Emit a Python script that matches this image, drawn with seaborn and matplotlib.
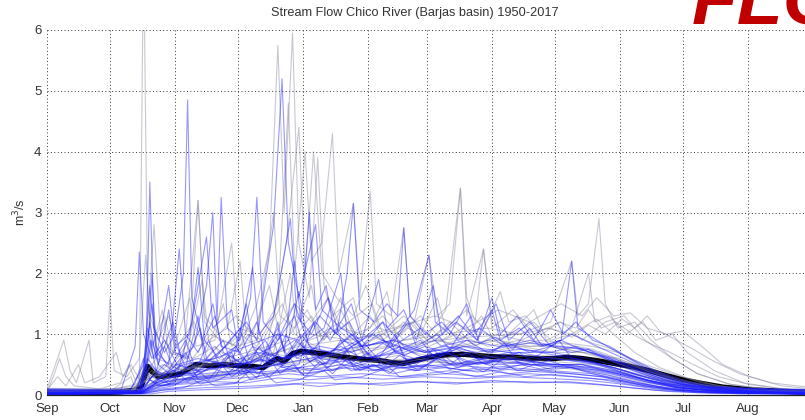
import matplotlib
matplotlib.use("Agg")
import matplotlib.pyplot as plt
import seaborn as sns
import pandas as pd

# Daily streamflow (m3/s) per hydrological year, as (day since 1 Sep, flow) vertices
yr01 = [(0,.05),(18,.07),(30,.1),(44,.15),(46,7.5),(48,1.4),(53,.9),(58,1.3),(62,.8),(70,1.2),(76,.7),(84,1.5),(88,.8),(96,1.1),(104,.7),(112,1.9),(116,1.0),(124,1.4),(131,.9),(140,1.6),(146,1.0),(154,1.3),(162,.8),(172,1.1),(182,.9),(192,1.2),(204,.8),(214,1.0),(226,.9),(238,1.1),(250,1.0),(262,1.25),(270,1.0),(280,.7),(292,.45),(305,.28),(320,.15),(340,.08),(365,.05)]
yr02 = [(0,.03),(44,.05),(47,.5),(49,3.5),(51,1.1),(56,.7),(61,1.0),(65,2.0),(67,4.85),(69,1.6),(74,.9),(79,1.5),(83,.8),(92,.7),(100,1.2),(104,.7),(113,.6),(121,1.0),(130,.6),(141,.7),(150,.9),(160,.5),(175,.6),(190,.7),(202,.5),(215,.6),(230,.5),(250,.45),(268,.35),(285,.22),(300,.12),(320,.07),(345,.04),(365,.03)]
yr03 = [(0,.04),(40,.05),(50,.4),(55,.3),(65,.6),(72,3.2),(75,1.2),(82,.9),(92,.8),(100,1.5),(106,2.4),(110,5.75),(113,3.0),(117,5.95),(120,2.5),(125,1.6),(129,3.9),(132,1.8),(136,1.3),(146,1.6),(150,1.0),(160,.9),(170,1.2),(182,.8),(195,1.0),(210,.8),(225,.9),(240,.8),(255,.7),(270,.6),(285,.4),(300,.25),(320,.12),(345,.06),(365,.04)]
yr04 = [(0,.06),(30,.08),(45,.2),(55,.5),(65,.4),(78,1.0),(90,.8),(100,.9),(110,1.5),(115,4.8),(118,2.0),(123,4.0),(126,2.2),(131,2.5),(136,4.3),(139,2.0),(146,3.15),(149,1.6),(154,3.35),(157,1.5),(164,1.3),(170,2.75),(173,1.3),(182,1.0),(190,1.4),(197,3.4),(200,1.3),(208,2.4),(212,1.1),(222,1.4),(232,1.0),(245,1.2),(255,.9),(266,1.2),(275,1.3),(285,.9),(298,.6),(310,.35),(325,.18),(345,.09),(365,.06)]
yr05 = [(0,.03),(42,.04),(48,.6),(52,.4),(60,1.2),(64,.6),(70,.8),(76,1.8),(79,3.0),(81,1.2),(83,3.25),(86,1.1),(92,.9),(97,1.6),(100,3.25),(103,1.2),(110,.9),(118,1.5),(125,.8),(135,.7),(145,1.0),(155,.6),(168,.8),(180,.6),(195,.7),(210,.55),(225,.6),(240,.5),(255,.5),(270,.4),(285,.25),(300,.15),(320,.08),(345,.04),(365,.03)]
yr06 = [(0,.1),(4,.5),(8,.9),(11,.4),(14,.2),(20,.9),(22,.2),(28,.3),(30,1.6),(32,.4),(38,.3),(44,.6),(47,2.3),(50,.8),(56,1.3),(60,.7),(70,.6),(80,.8),(90,.5),(105,.7),(120,.6),(135,.5),(150,.7),(165,.5),(180,.6),(195,.5),(210,.6),(225,.4),(245,.45),(265,.35),(285,.2),(305,.1),(330,.06),(365,.04)]
yr07 = [(0,.02),(45,.03),(52,.2),(60,.25),(75,.3),(90,.35),(105,.5),(118,.7),(128,1.2),(135,.9),(145,1.5),(150,.9),(158,1.9),(162,1.1),(170,1.4),(176,.9),(184,1.8),(188,1.0),(196,1.3),(205,.9),(214,1.5),(220,.9),(230,1.2),(240,.8),(250,1.0),(262,.8),(275,.6),(290,.35),(305,.18),(320,.1),(345,.05),(365,.03)]
yr08 = [(0,.08),(40,.07),(50,.3),(60,.4),(80,.5),(100,.6),(120,.8),(140,.9),(160,1.0),(175,1.2),(182,2.3),(186,1.3),(192,1.5),(197,3.4),(200,1.6),(204,1.2),(208,2.4),(212,1.2),(220,1.0),(232,1.4),(238,.9),(250,1.1),(258,2.0),(261,1.2),(268,1.3),(276,1.0),(284,1.2),(290,.9),(298,1.0),(305,.7),(318,.4),(332,.2),(350,.1),(365,.07)]
yr09 = [(0,.03),(44,.04),(49,.5),(55,.3),(62,.5),(72,.4),(85,.8),(95,1.2),(100,.9),(108,2.8),(112,5.2),(115,2.5),(120,1.6),(128,2.8),(131,1.4),(140,1.1),(150,.9),(160,1.2),(170,.8),(180,.7),(195,.8),(210,.6),(225,.7),(240,.6),(255,.55),(270,.45),(285,.3),(300,.18),(318,.1),(340,.05),(365,.03)]
yr10 = [(0,.05),(44,.06),(50,.2),(60,.5),(70,.4),(82,.7),(92,1.0),(100,.8),(108,1.3),(114,2.5),(120,4.4),(123,2.0),(127,4.0),(131,2.0),(138,1.6),(146,1.3),(152,1.8),(158,1.1),(168,1.0),(178,1.3),(188,.9),(198,1.1),(210,1.0),(222,.8),(235,.9),(248,.85),(260,.8),(272,.7),(285,.5),(298,.35),(312,.2),(330,.1),(350,.06),(365,.05)]
yr11 = [(0,.02),(42,.03),(46,.4),(49,1.8),(52,.7),(58,.5),(63,2.4),(66,1.0),(72,.7),(80,1.3),(84,.7),(94,.5),(104,.9),(110,.5),(125,.4),(140,.5),(160,.4),(180,.5),(200,.4),(220,.45),(240,.4),(260,.35),(275,.25),(290,.15),(305,.08),(330,.04),(365,.02)]
yr12 = [(0,.02),(45,.03),(52,.15),(65,.2),(80,.25),(100,.3),(115,.4),(125,.35),(140,.45),(155,.4),(170,.5),(185,.45),(200,.55),(215,.5),(230,.55),(245,.5),(260,.45),(275,.35),(290,.2),(305,.1),(325,.05),(365,.02)]
yr13 = [(0,.07),(44,.06),(50,.3),(58,.4),(66,.9),(70,.5),(80,.6),(92,1.1),(96,.6),(108,.8),(118,1.3),(122,.8),(135,.7),(146,1.0),(152,.6),(165,.7),(178,.9),(185,.6),(198,.8),(212,.7),(225,.75),(240,.7),(252,.8),(262,.65),(275,.5),(290,.3),(305,.16),(322,.08),(345,.06),(365,.05)]
yr14 = [(0,.1),(40,.09),(50,.3),(65,.4),(85,.6),(105,.8),(125,1.0),(145,.9),(165,1.1),(185,1.3),(200,1.1),(215,1.4),(230,1.2),(245,1.5),(255,1.3),(262,1.6),(270,1.3),(278,1.35),(286,1.1),(295,1.0),(303,1.05),(312,.8),(322,.5),(335,.3),(350,.15),(365,.1)]
yr15 = [(0,.04),(45,.05),(55,.2),(70,.3),(90,.4),(110,.5),(130,.6),(150,.8),(170,.9),(190,1.0),(210,1.1),(225,1.0),(240,1.2),(250,2.2),(253,1.3),(258,1.5),(263,2.9),(266,1.5),(272,1.1),(280,1.2),(288,.9),(298,.6),(310,.35),(325,.18),(345,.08),(365,.05)]
yr16 = [(0,.03),(35,.05),(42,.8),(44,2.35),(46,1.0),(50,.6),(56,.9),(62,.5),(72,.6),(85,.5),(100,.7),(115,.6),(130,.8),(145,.7),(160,.9),(175,.7),(190,.8),(205,.7),(220,.8),(235,.7),(250,.6),(265,.5),(280,.35),(295,.2),(310,.1),(330,.05),(365,.03)]
yr17 = [(0,.02),(45,.03),(55,.15),(70,.25),(90,.3),(105,.5),(115,.9),(120,1.7),(124,.9),(132,1.1),(140,2.0),(143,1.0),(150,.8),(160,1.2),(166,.7),(175,.6),(190,.7),(205,.5),(220,.6),(240,.5),(255,.45),(270,.35),(285,.22),(300,.12),(320,.06),(365,.02)]
yr18 = [(0,.05),(30,.06),(40,.3),(42,.1),(48,.5),(55,1.4),(58,.7),(66,.6),(74,1.9),(77,.9),(86,1.1),(92,2.2),(95,1.0),(103,.9),(112,1.5),(118,1.0),(128,.8),(138,1.1),(150,.7),(165,.8),(180,.7),(195,.9),(210,.7),(225,.8),(242,.7),(258,.7),(272,.6),(288,.4),(302,.22),(318,.12),(340,.06),(365,.04)]
yr19 = [(0,.09),(45,.07),(55,.2),(70,.3),(90,.35),(110,.4),(130,.5),(150,.6),(170,.7),(185,.9),(195,1.2),(205,.9),(212,1.6),(216,1.0),(224,1.3),(232,.9),(240,1.4),(246,1.0),(252,1.2),(260,.9),(268,.8),(278,.6),(290,.4),(305,.22),(320,.14),(340,.1),(365,.08)]
yr20 = [(0,.02),(46,.03),(55,.08),(75,.12),(100,.15),(125,.2),(150,.18),(175,.22),(200,.2),(225,.22),(250,.2),(270,.15),(290,.08),(310,.04),(365,.02)]
yr21 = [(0,.03),(44,.04),(48,.9),(50,1.5),(53,.5),(60,.3),(75,.35),(90,.4),(105,.35),(120,.45),(135,.4),(150,.5),(170,.45),(190,.5),(210,.45),(230,.5),(250,.45),(265,.4),(280,.3),(295,.18),(310,.09),(330,.04),(365,.03)]
yr22 = [(0,.08),(5,.3),(9,.15),(15,.5),(18,.2),(25,.3),(33,.7),(36,.3),(40,.5),(45,.2),(50,.3),(60,.4),(75,.5),(95,.6),(115,.5),(135,.6),(155,.55),(175,.6),(195,.5),(215,.55),(235,.5),(255,.5),(270,.4),(285,.3),(300,.18),(320,.09),(345,.05),(365,.04)]
yr23 = [(0,.03),(45,.04),(55,.3),(65,.5),(80,.6),(95,.8),(110,1.0),(120,.9),(130,1.3),(138,1.0),(143,2.0),(146,3.15),(149,1.4),(156,1.2),(162,1.5),(167,1.3),(170,2.75),(173,1.3),(180,1.0),(188,1.2),(196,.9),(206,1.1),(218,.8),(230,.9),(242,.8),(255,.75),(268,.6),(282,.4),(297,.22),(312,.12),(335,.06),(365,.03)]
yr24 = [(0,.06),(45,.05),(55,.25),(70,.4),(90,.5),(110,.6),(130,.7),(150,.8),(165,.9),(175,1.4),(182,2.3),(185,1.2),(192,1.0),(200,1.5),(204,1.0),(212,1.4),(216,.9),(225,1.1),(235,.8),(245,.9),(250,2.2),(253,1.1),(262,.9),(272,.7),(285,.45),(300,.25),(315,.13),(335,.08),(365,.06)]
yr25 = [(0,.05),(40,.06),(46,.3),(52,.6),(60,.5),(68,.9),(72,3.2),(75,1.3),(82,1.0),(90,1.3),(98,1.0),(106,1.8),(110,1.1),(118,1.5),(126,1.2),(134,1.6),(140,1.1),(150,1.0),(160,1.3),(170,.9),(180,1.0),(195,.8),(210,.9),(225,.8),(240,.8),(255,.7),(270,.55),(285,.35),(300,.2),(318,.1),(340,.06),(365,.05)]
yr26 = [(0,.02),(45,.03),(55,.1),(70,.15),(90,.2),(100,.5),(104,.3),(115,.35),(130,.3),(150,.35),(170,.3),(190,.35),(210,.3),(230,.35),(250,.3),(268,.25),(285,.15),(300,.08),(320,.04),(365,.02)]
yr27 = [(0,.08),(46,.06),(52,.2),(60,.3),(75,.4),(90,.5),(105,.6),(118,.9),(126,.7),(135,1.1),(145,.8),(155,1.0),(165,.8),(178,1.1),(188,.8),(200,.9),(215,.8),(230,.85),(245,.8),(258,.75),(270,.6),(285,.4),(300,.22),(315,.14),(335,.1),(365,.08)]
yr28 = [(0,.04),(30,.05),(45,.1),(55,.3),(65,.25),(80,.3),(100,.35),(120,.4),(140,.5),(160,.45),(180,.55),(200,.5),(220,.6),(240,.55),(260,.5),(275,.4),(290,.28),(305,.15),(325,.07),(365,.04)]
yr29 = [(0,.03),(45,.04),(49,1.2),(52,.6),(58,1.8),(61,.8),(68,1.0),(76,2.6),(79,1.1),(88,1.4),(91,.8),(98,2.1),(101,1.0),(108,1.3),(116,2.9),(119,1.3),(126,1.0),(134,1.6),(140,.9),(150,.8),(165,.9),(180,.7),(200,.8),(220,.7),(240,.7),(258,.6),(275,.45),(292,.25),(310,.12),(335,.05),(365,.03)]
yr30 = [(0,.05),(42,.06),(47,.7),(51,2.8),(54,1.0),(60,.7),(68,1.6),(71,.8),(80,.9),(88,2.5),(91,1.1),(100,1.0),(108,3.0),(111,1.3),(118,1.1),(126,1.8),(130,1.0),(140,1.2),(150,.8),(160,1.0),(172,.8),(185,.9),(200,.8),(215,.9),(230,.8),(245,.85),(260,.75),(272,.6),(286,.4),(300,.22),(318,.11),(340,.06),(365,.05)]
yr31 = [(0,.01),(44,.02),(50,.12),(54,.3),(58,.18),(63,.35),(67,.22),(72,.4),(77,.25),(83,.5),(88,.3),(94,.45),(100,.28),(106,.6),(111,.35),(117,.5),(123,.3),(130,.55),(136,.35),(143,.6),(149,.4),(156,.5),(163,.35),(170,.55),(177,.4),(185,.6),(192,.42),(200,.5),(208,.38),(216,.55),(224,.4),(232,.5),(240,.42),(250,.45),(260,.35),(272,.25),(285,.15),(300,.08),(320,.04),(365,.01)]
yr32 = [(0,.1),(20,.09),(40,.1),(46,.5),(48,1.1),(51,.6),(56,.8),(60,.45),(66,.7),(71,.4),(77,.9),(82,.5),(88,.65),(95,.4),(101,.8),(107,.5),(114,1.0),(119,.6),(126,.75),(133,.5),(140,.9),(146,.55),(153,.7),(160,.45),(168,.65),(176,.5),(184,.75),(192,.5),(200,.7),(209,.5),(218,.65),(227,.5),(236,.6),(245,.5),(255,.5),(266,.4),(278,.3),(292,.2),(306,.14),(325,.11),(365,.09)]
yr33 = [(0,.04),(45,.05),(49,.25),(53,.15),(60,.2),(68,.5),(72,.25),(80,.3),(88,.7),(92,.35),(100,.4),(108,.9),(112,.45),(120,.5),(127,1.2),(131,.6),(138,.55),(145,.8),(150,.5),(158,.6),(166,1.0),(170,.6),(178,.55),(187,.7),(195,.5),(205,.6),(215,.55),(225,.7),(233,.5),(242,.6),(252,.55),(262,.5),(273,.38),(286,.24),(300,.13),(318,.07),(340,.05),(365,.04)]
yr34 = [(0,.01),(50,.02),(58,.06),(70,.08),(85,.1),(100,.12),(118,.18),(130,.14),(145,.2),(160,.16),(178,.22),(195,.18),(212,.24),(230,.2),(248,.22),(262,.18),(278,.12),(295,.06),(315,.03),(365,.01)]
yr35 = [(0,.02),(45,.03),(48,.7),(50,2.0),(52,.8),(57,.5),(62,.8),(66,.45),(72,1.3),(75,.6),(82,.5),(90,.8),(95,.45),(102,.6),(110,1.1),(114,.6),(121,.7),(128,.45),(136,.6),(145,.4),(155,.5),(165,.35),(178,.45),(190,.35),(205,.45),(220,.35),(235,.4),(250,.35),(265,.3),(280,.2),(295,.12),(312,.06),(335,.03),(365,.02)]
yr36 = [(0,.07),(40,.06),(46,.2),(52,.4),(58,.3),(66,.6),(72,.4),(80,.8),(86,.5),(96,1.0),(100,.6),(108,.7),(116,2.0),(119,1.0),(126,1.3),(132,.9),(140,1.4),(146,1.0),(154,1.1),(162,1.7),(166,1.0),(174,1.2),(181,.9),(190,1.1),(198,.9),(207,1.3),(213,.9),(222,1.0),(232,1.2),(240,.9),(250,1.0),(260,.85),(270,.75),(283,.5),(297,.3),(312,.17),(332,.09),(365,.07)]
yr37 = [(0,.03),(44,.04),(50,.3),(56,.2),(64,.4),(70,.3),(80,.5),(90,.4),(98,.8),(104,.5),(110,1.2),(113,.7),(118,2.2),(121,1.2),(125,3.0),(128,1.4),(133,1.8),(137,1.0),(144,1.2),(150,.8),(158,1.0),(166,.7),(175,.8),(185,.65),(195,.75),(207,.6),(220,.7),(233,.6),(246,.65),(258,.55),(270,.45),(284,.3),(298,.17),(315,.09),(340,.05),(365,.03)]
yr38 = [(0,.02),(46,.03),(52,.1),(60,.15),(68,.3),(73,.18),(82,.25),(92,.45),(97,.25),(106,.3),(116,.6),(121,.35),(132,.4),(142,.7),(147,.4),(158,.5),(168,.8),(173,.45),(182,.5),(192,.75),(198,.5),(208,.6),(218,.85),(224,.55),(234,.65),(244,.9),(250,.6),(260,.55),(272,.4),(286,.25),(300,.13),(318,.06),(340,.03),(365,.02)]
yr39 = [(0,.09),(44,.08),(50,.2),(60,.3),(75,.4),(92,.5),(110,.7),(125,.9),(140,1.1),(155,1.5),(160,1.0),(170,1.3),(178,1.0),(186,1.6),(190,1.1),(200,1.4),(208,1.1),(216,1.7),(220,1.2),(228,1.3),(236,1.0),(244,1.2),(252,1.1),(258,1.4),(264,1.1),(271,1.2),(279,1.0),(287,.85),(297,.7),(308,.5),(320,.3),(335,.17),(352,.1),(365,.09)]
yr40 = [(0,.03),(44,.04),(47,.3),(49,.9),(52,.4),(58,.3),(64,.5),(70,.3),(78,.45),(86,.35),(94,.6),(100,.35),(108,.5),(118,.4),(128,.6),(136,.4),(146,.55),(156,.4),(166,.5),(176,.4),(186,.6),(196,.45),(206,.55),(216,.42),(226,.5),(236,.42),(246,.48),(256,.4),(268,.32),(282,.2),(297,.1),(315,.05),(340,.03),(365,.03)]
yr41 = [(0,.02),(43,.03),(47,.4),(50,.9),(53,.5),(58,1.4),(61,.7),(67,.6),(73,1.1),(76,.6),(84,.9),(88,.5),(95,1.5),(98,.8),(104,.7),(110,1.0),(115,.6),(122,.8),(130,.5),(140,.6),(150,.45),(162,.5),(175,.4),(190,.45),(205,.38),(220,.42),(235,.38),(250,.35),(264,.3),(278,.2),(292,.12),(310,.06),(335,.03),(365,.02)]
yr42 = [(0,.08),(46,.07),(52,.25),(60,.4),(70,.35),(80,.55),(90,.45),(100,.6),(110,.5),(120,.75),(130,.6),(140,.8),(150,.6),(160,.85),(170,.65),(180,.8),(190,.7),(200,.9),(210,.7),(220,.85),(230,.7),(240,.8),(250,.7),(258,.75),(266,.6),(276,.45),(288,.3),(302,.18),(318,.12),(340,.09),(365,.08)]
yr43 = [(0,.11),(45,.09),(55,.2),(75,.3),(100,.45),(125,.6),(150,.75),(175,.85),(200,.95),(225,1.0),(240,1.1),(250,.95),(258,1.15),(266,1.0),(274,1.25),(280,1.1),(286,1.3),(292,1.05),(300,.9),(308,.75),(318,.55),(330,.35),(345,.2),(365,.12)]
yr44 = [(0,.01),(46,.02),(55,.08),(65,.12),(75,.25),(80,.15),(92,.2),(104,.35),(109,.2),(120,.25),(132,.4),(137,.25),(150,.3),(163,.45),(168,.3),(180,.35),(192,.4),(204,.3),(216,.38),(228,.3),(240,.34),(252,.3),(265,.25),(280,.16),(295,.09),(315,.04),(365,.01)]
yr45 = [(0,.05),(3,.3),(6,.6),(9,.3),(13,.15),(25,.1),(35,.2),(39,.5),(42,.25),(46,.4),(50,.3),(58,.5),(66,.4),(76,.6),(86,.5),(98,.7),(110,.55),(122,.7),(134,.6),(148,.75),(160,.6),(174,.7),(188,.6),(202,.7),(216,.6),(230,.65),(244,.6),(258,.55),(270,.45),(284,.3),(298,.18),(315,.09),(340,.05),(365,.05)]
yr46 = [(0,.05),(46,.05),(54,.15),(66,.25),(80,.3),(95,.4),(110,.5),(125,.6),(138,.7),(148,.9),(154,.6),(164,.8),(172,1.2),(176,.8),(186,1.0),(192,.75),(202,1.3),(206,.85),(214,.95),(222,.75),(230,1.1),(236,.8),(245,.9),(254,.75),(264,.65),(276,.5),(290,.32),(304,.18),(320,.1),(342,.07),(365,.05)]
yr47 = [(0,.02),(38,.03),(42,.2),(46,.6),(49,.25),(55,.15),(65,.18),(80,.22),(95,.2),(110,.28),(125,.25),(140,.3),(160,.26),(180,.3),(200,.27),(220,.3),(240,.27),(258,.24),(274,.18),(290,.1),(308,.05),(330,.02),(365,.02)]
yr48 = [(0,.03),(45,.04),(50,.3),(56,.5),(62,.35),(69,1.2),(72,2.1),(75,.9),(82,.6),(90,.8),(96,.5),(104,.7),(112,.5),(120,.9),(125,.55),(135,.7),(145,.5),(158,.6),(170,.5),(185,.6),(200,.5),(215,.55),(230,.5),(245,.5),(258,.45),(272,.35),(287,.22),(302,.12),(320,.06),(345,.03),(365,.03)]

# Mean daily flow over all years
mean_flow = [(0,.03),(20,.03),(35,.05),(42,.08),(45,.15),(47,.35),(48,.47),(50,.38),(53,.3),(58,.32),(63,.34),(67,.42),(71,.5),(78,.48),(85,.5),(92,.48),(98,.47),(103,.45),(107,.55),(110,.6),(113,.55),(117,.68),(121,.72),(126,.7),(133,.67),(140,.63),(150,.59),(158,.57),(165,.53),(170,.52),(176,.57),(182,.62),(190,.66),(198,.67),(205,.65),(212,.63),(222,.62),(232,.6),(242,.6),(248,.62),(255,.6),(263,.56),(270,.52),(278,.47),(287,.4),(295,.32),(303,.25),(312,.19),(322,.13),(334,.09),(345,.07),(365,.04)]

month_starts = [0, 30, 61, 91, 122, 153, 181, 212, 242, 273, 303, 334]
month_labels = ["Sep", "Oct", "Nov", "Dec", "Jan", "Feb", "Mar", "Apr", "May", "Jun", "Jul", "Aug"]
flow_ticks = [0, 1, 2, 3, 4, 5, 6]

years = [yr01, yr02, yr03, yr04, yr05, yr06, yr07, yr08, yr09, yr10,
         yr11, yr12, yr13, yr14, yr15, yr16, yr17, yr18, yr19, yr20,
         yr21, yr22, yr23, yr24, yr25, yr26, yr27, yr28, yr29, yr30,
         yr31, yr32, yr33, yr34, yr35, yr36, yr37, yr38, yr39, yr40,
         yr41, yr42, yr43, yr44, yr45, yr46, yr47, yr48]
grey_years = {1, 3, 4, 6, 8, 10, 14, 15, 18, 22, 25, 28, 30, 36, 39, 43, 45}

rows = []
for i, pts in enumerate(years, start=1):
    tone = "grey" if i in grey_years else "blue"
    for d, q in pts:
        rows.append({"day": d, "flow": q, "year": i, "tone": tone})
df = pd.DataFrame(rows)
df_mean = pd.DataFrame(mean_flow, columns=["day", "flow"])

sns.set_theme(style="white")
plt.rcParams["font.family"] = ["Liberation Sans", "DejaVu Sans"]

fig = plt.figure(figsize=(8.05, 4.2), dpi=100)
ax = fig.add_axes([47 / 805, 25 / 420, 766 / 805, 365 / 420])

# mean first, so the dense bundle of yearly traces tints it blue where they pile up
sns.lineplot(data=df_mean, x="day", y="flow", color="black", linewidth=3.8,
             estimator=None, sort=False, ax=ax, zorder=2)
sns.lineplot(data=df, x="day", y="flow", units="year", estimator=None, hue="tone",
             palette={"blue": "#1a1aff", "grey": "#8585a0"}, linewidth=0.8, alpha=0.45,
             legend=False, sort=False, ax=ax, zorder=3)

ax.set_xlim(0, 365)
ax.set_ylim(0, 6)
ax.set_xticks(month_starts)
ax.set_xticklabels(month_labels)
ax.set_yticks(flow_ticks)
ax.set_xlabel("")
ax.set_ylabel("m$^3$/s", fontsize=9, color="#333333", labelpad=4)
ax.tick_params(axis="both", direction="in", length=4, width=0.8, color="#222222",
               labelsize=9.5, labelcolor="#333333")
ax.tick_params(axis="x", pad=6)
ax.tick_params(axis="y", pad=4)
ax.grid(True, color="#333333", linestyle=(0, (1, 2.5)), linewidth=0.7)
ax.set_axisbelow(True)
for side in ("top", "right", "left"):
    ax.spines[side].set_visible(False)
ax.spines["bottom"].set_color("#222222")
ax.spines["bottom"].set_linewidth(0.9)

fig.text(415 / 805, 1 - 13 / 420, "Stream Flow Chico River (Barjas basin) 1950-2017",
         ha="center", va="center", fontsize=9.2, color="#333333")
fig.text(692 / 805, 1 - 23 / 420, "FLO", ha="left", va="baseline", fontsize=54,
         fontweight="bold", fontstyle="italic", color="#c00000")

fig.savefig("out.png", dpi=100)
